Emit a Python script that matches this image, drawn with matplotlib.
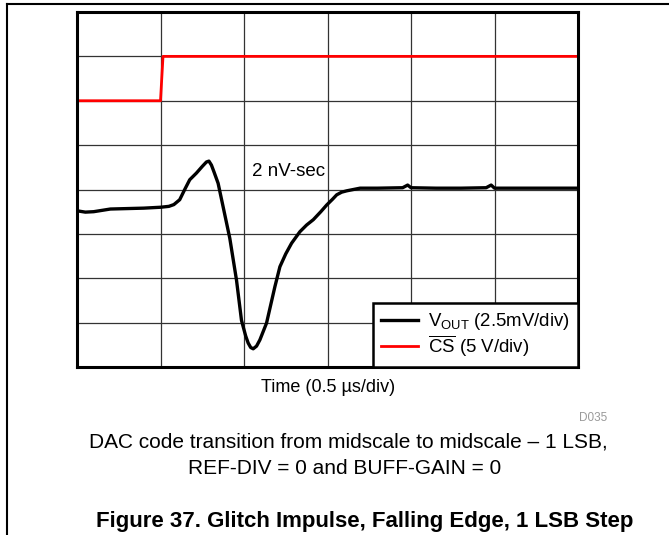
import matplotlib
matplotlib.use("Agg")
import matplotlib.pyplot as plt
from matplotlib.lines import Line2D

plt.rcParams['font.family'] = ['Liberation Sans', 'DejaVu Sans']
plt.rcParams['mathtext.fontset'] = 'custom'
plt.rcParams['mathtext.rm'] = 'Liberation Sans'
plt.rcParams['mathtext.it'] = 'Liberation Sans:italic'

# ---------------- DATOS (en divisiones de pantalla) ----------------
vout_t = [0.00, 0.10, 0.20, 0.40, 0.60, 0.80, 1.00, 1.10, 1.16, 1.23, 1.29, 1.35,
          1.43, 1.50, 1.55, 1.58, 1.61, 1.64, 1.69, 1.75, 1.83, 1.91, 1.97, 2.02,
          2.05, 2.08, 2.11, 2.15, 2.19, 2.27, 2.32, 2.37, 2.43, 2.50, 2.57, 2.67,
          2.75, 2.83, 2.92, 2.99, 3.06, 3.11, 3.17, 3.23, 3.39, 3.60, 3.90, 3.96,
          4.00, 4.30, 4.60, 4.90, 4.96, 5.00, 5.50, 6.00]
vout_v = [3.52, 3.49, 3.50, 3.56, 3.57, 3.58, 3.60, 3.62, 3.66, 3.77, 4.00, 4.22,
          4.37, 4.52, 4.62, 4.64, 4.55, 4.40, 4.14, 3.61, 2.90, 1.96, 1.05, 0.70,
          0.54, 0.44, 0.41, 0.47, 0.61, 0.99, 1.40, 1.81, 2.26, 2.55, 2.79, 3.05,
          3.20, 3.32, 3.50, 3.65, 3.78, 3.88, 3.94, 3.97, 4.03, 4.03, 4.04, 4.10,
          4.04, 4.03, 4.03, 4.04, 4.10, 4.03, 4.03, 4.03]

cs_t = [0.0, 1.00, 1.03, 6.0]
cs_v = [6.0, 6.0, 7.0, 7.0]

# ---------------- GRAFICO ----------------
W, H = 669, 535
fig = plt.figure(figsize=(W / 100, H / 100), dpi=100)
ax = fig.add_axes([77 / W, 1 - 367 / H, (578 - 77) / W, (367 - 12) / H])

ax.plot(vout_t, vout_v, color="black", linewidth=2.4, solid_joinstyle="round",
        label=r"V$_{\mathrm{OUT}}$ (2.5mV/div)")
ax.plot(cs_t, cs_v, color="#ff0000", linewidth=2.0,
        label=r"$\overline{\mathrm{CS}}$ (5 V/div)")

ax.set_xlim(0, 6)
ax.set_ylim(0, 8)
ax.set_xticks(range(7))
ax.set_yticks(range(9))
ax.tick_params(length=0, labelbottom=False, labelleft=False)
ax.grid(True, color="#333333", linewidth=0.9)
for s in ax.spines.values():
    s.set_linewidth(2.2)

ax.text(2.09, 4.4, "2 nV-sec", fontsize=13.5, ha="left", va="center")

leg = ax.legend(loc="lower right", bbox_to_anchor=(1, 0), borderaxespad=0,
                fontsize=13.4, fancybox=False, framealpha=1, edgecolor="black",
                handlelength=2.0, labelspacing=0.05, handletextpad=0.5,
                borderpad=0.45)
leg.get_frame().set_linewidth(1.8)

# ---------------- TEXTOS ----------------
fig.text(328 / W, 1 - 388 / H, "Time (0.5 µs/div)", fontsize=13,
         ha="center", va="center")
fig.text(607 / W, 1 - 418 / H, "D035", fontsize=8.5, color="#999999",
         ha="right", va="center")
fig.text(348 / W, 1 - 442 / H,
         "DAC code transition from midscale to midscale \u2013 1 LSB,",
         fontsize=15, ha="center", va="center")
fig.text(345 / W, 1 - 468 / H, "REF-DIV = 0 and BUFF-GAIN = 0",
         fontsize=15, ha="center", va="center")
fig.text(365 / W, 1 - 521 / H,
         "Figure 37. Glitch Impulse, Falling Edge, 1 LSB Step",
         fontsize=16, fontweight="bold", ha="center", va="center")

# marco de la pagina
fig.add_artist(Line2D([7 / W, 1], [1 - 3.5 / H, 1 - 3.5 / H], color="black", linewidth=1.5))
fig.add_artist(Line2D([7 / W, 7 / W], [0, 1 - 3.5 / H], color="black", linewidth=1.5))

plt.savefig("out.png", dpi=100)
plt.close()
